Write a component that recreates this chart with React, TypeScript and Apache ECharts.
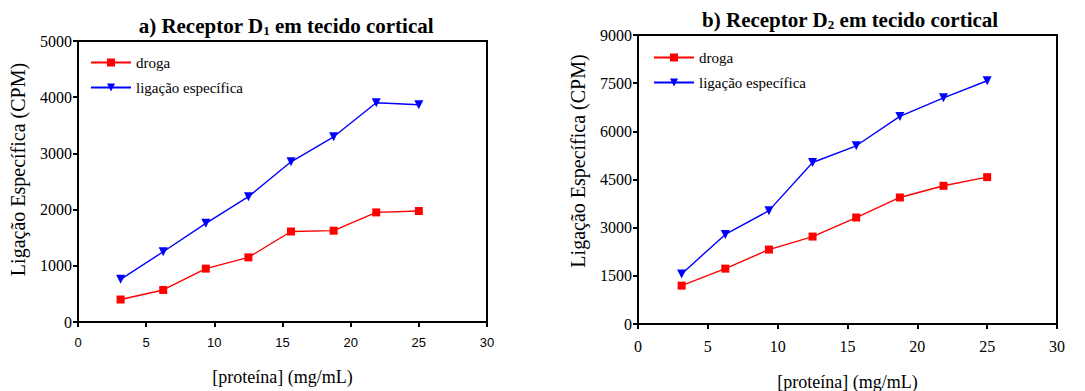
import React, { useEffect, useRef } from "react";
import * as echarts from "echarts";

const proteina = [3.125, 6.25, 9.375, 12.5, 15.625, 18.75, 21.875, 25];
const d1Droga = [400, 570, 950, 1150, 1610, 1625, 1950, 1975];
const d1Especifica = [760, 1250, 1755, 2230, 2850, 3295, 3900, 3865];
const d2Droga = [1195, 1725, 2318, 2723, 3316, 3940, 4304, 4574];
const d2Especifica = [1560, 2790, 3530, 5030, 5550, 6465, 7045, 7575];

const serif = "'Liberation Serif', 'Times New Roman', serif";
const sans = "'Liberation Sans', Arial, sans-serif";

function pairs(xs: number[], ys: number[]) {
  return xs.map((x, i) => [x, ys[i]]);
}

export default function App() {
  const ref = useRef<HTMLDivElement>(null);
  useEffect(() => {
    const chart = echarts.init(ref.current!, null, { renderer: "svg" });
    const axisLine = { show: true, onZero: false, lineStyle: { color: "#000", width: 2 } };
    const axisTick = { show: true, inside: false, length: 5, lineStyle: { color: "#000", width: 2 } };
    const plain = (v: number) => String(v);
    const titleRich = {
      main: { fontFamily: serif, fontWeight: "bold", fontSize: 21, color: "#000" },
      sub: { fontFamily: serif, fontWeight: "bold", fontSize: 13, color: "#000", padding: [9, 0, 0, 0] },
    };
    const legendCommon = {
      orient: "vertical", itemWidth: 40, itemHeight: 10, itemGap: 10, padding: 0,
      data: ["droga", "ligação específica"],
      textStyle: { fontFamily: serif, fontSize: 15, color: "#000" },
    };
    chart.setOption({
      animation: false,
      backgroundColor: "#fff",
      textStyle: { fontFamily: serif },
      title: [
        {
          text: "{main|a) Receptor D}{sub|1}{main| em tecido cortical}",
          left: 281, top: 10, textAlign: "center",
          textStyle: { fontFamily: serif, fontWeight: "bold", fontSize: 21, color: "#000", rich: titleRich },
        },
        {
          text: "{main|b) Receptor D}{sub|2}{main| em tecido cortical}",
          left: 845, top: 4, textAlign: "center",
          textStyle: { fontFamily: serif, fontWeight: "bold", fontSize: 21, color: "#000", rich: titleRich },
        },
      ],
      legend: [
        { ...legendCommon, left: 90, top: 55 },
        { ...legendCommon, left: 653, top: 50 },
      ],
      grid: [
        { left: 78, top: 41, width: 409, height: 281, show: true, borderColor: "#000", borderWidth: 2, backgroundColor: "transparent", containLabel: false, outerBoundsMode: "none" },
        { left: 638, top: 35, width: 419, height: 289, show: true, borderColor: "#000", borderWidth: 2, backgroundColor: "transparent", containLabel: false, outerBoundsMode: "none" },
      ],
      xAxis: [
        {
          type: "value", gridIndex: 0, min: 0, max: 30, interval: 5,
          axisLine, axisTick, splitLine: { show: false },
          axisLabel: { fontFamily: sans, fontSize: 13, color: "#000", margin: 14, formatter: plain },
          name: "[proteína] (mg/mL)", nameLocation: "middle", nameGap: 46,
          nameTextStyle: { fontFamily: serif, fontSize: 18, color: "#000" },
        },
        {
          type: "value", gridIndex: 1, min: 0, max: 30, interval: 5,
          axisLine, axisTick, splitLine: { show: false },
          axisLabel: { fontFamily: serif, fontSize: 16, color: "#000", margin: 14, formatter: plain },
          name: "[proteína] (mg/mL)", nameLocation: "middle", nameGap: 49,
          nameTextStyle: { fontFamily: serif, fontSize: 18, color: "#000" },
        },
      ],
      yAxis: [
        {
          type: "value", gridIndex: 0, min: 0, max: 5000, interval: 1000,
          axisLine, axisTick, splitLine: { show: false },
          axisLabel: { fontFamily: serif, fontSize: 16, color: "#000", margin: 6, formatter: plain },
          name: "Ligação Específica (CPM)", nameLocation: "middle", nameGap: 50,
          nameTextStyle: { fontFamily: serif, fontSize: 20, color: "#000", padding: [0, 0, 0, 24] },
        },
        {
          type: "value", gridIndex: 1, min: 0, max: 9000, interval: 1500,
          axisLine, axisTick, splitLine: { show: false },
          axisLabel: { fontFamily: serif, fontSize: 16, color: "#000", margin: 6, formatter: plain },
          name: "Ligação Específica (CPM)", nameLocation: "middle", nameGap: 50,
          nameTextStyle: { fontFamily: serif, fontSize: 20, color: "#000", padding: [0, 0, 0, 37] },
        },
      ],
      series: [
        {
          name: "droga", type: "line", xAxisIndex: 0, yAxisIndex: 0,
          data: pairs(proteina, d1Droga), symbol: "rect", symbolSize: 8,
          lineStyle: { color: "#ff0000", width: 1.4 }, itemStyle: { color: "#ff0000" },
        },
        {
          name: "ligação específica", type: "line", xAxisIndex: 0, yAxisIndex: 0,
          data: pairs(proteina, d1Especifica), symbol: "triangle", symbolRotate: 180, symbolSize: 9,
          lineStyle: { color: "#0000ff", width: 1.4 }, itemStyle: { color: "#0000ff" },
        },
        {
          name: "droga", type: "line", xAxisIndex: 1, yAxisIndex: 1,
          data: pairs(proteina, d2Droga), symbol: "rect", symbolSize: 8,
          lineStyle: { color: "#ff0000", width: 1.4 }, itemStyle: { color: "#ff0000" },
        },
        {
          name: "ligação específica", type: "line", xAxisIndex: 1, yAxisIndex: 1,
          data: pairs(proteina, d2Especifica), symbol: "triangle", symbolRotate: 180, symbolSize: 9,
          lineStyle: { color: "#0000ff", width: 1.4 }, itemStyle: { color: "#0000ff" },
        },
      ],
    });
    return () => chart.dispose();
  }, []);
  return (
    <div style={{ position: "fixed", left: 0, top: 0, width: 1085, height: 391, background: "#fff" }}>
      <div ref={ref} style={{ width: 1085, height: 391 }} />
    </div>
  );
}
